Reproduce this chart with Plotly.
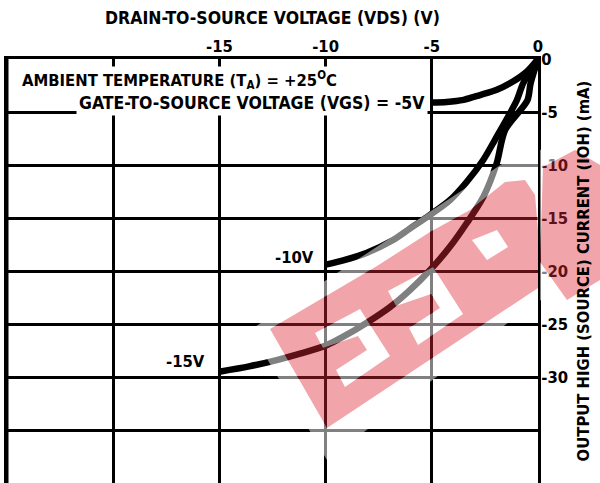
import plotly.graph_objects as go

# ---------------- data ----------------
vgs5_v = [0, -0.53, -1.16, -1.94, -2.73, -3.5, -4.3, -5.0]
vgs5_i = [0, -1.2, -2.1, -2.9, -3.4, -3.85, -4.05, -4.1]

vgs10_v = [0, -0.7, -1.0, -2.02, -2.57, -3.36, -4.14, -5.08, -6.03, -6.84, -8.08, -9.17, -10.0]
vgs10_i = [0, -2.3, -3.9, -7.6, -9.5, -11.6, -13.3, -14.7, -16.0, -17.1, -18.3, -19.0, -19.4]

vgs15_v = [0, -0.35, -0.5, -1.55, -1.94, -2.57, -3.36, -4.14, -5.08, -6.03, -6.97, -8.08,
           -9.17, -9.95, -11.2, -12.3, -13.6, -15.0]
vgs15_i = [0, -2.3, -3.9, -6.7, -9.8, -13.0, -15.5, -17.7, -19.9, -21.8, -23.4, -24.9,
           -26.2, -27.0, -27.8, -28.4, -29.0, -29.5]

x_range = [-25, 0]
y_range = [-40, 0]
x_tickvals = [-20, -15, -10, -5, 0]
x_ticktext = ["", "-15", "-10", "-5", "0"]
y_tickvals = [0, -5, -10, -15, -20, -25, -30, -35]
y_ticktext = ["0", "-5", "-10", "-15", "-20", "-25", "-30", ""]

FONT = "Liberation Sans Narrow, Arial Narrow, DejaVu Sans Condensed, Liberation Sans, sans-serif"
W, H = 600, 483
L, R, T, B = 7, 62, 59, 0

fig = go.Figure()
for v, i in [(vgs5_v, vgs5_i), (vgs10_v, vgs10_i), (vgs15_v, vgs15_i)]:
    fig.add_trace(go.Scatter(x=v, y=i, mode="lines",
                             line=dict(color="black", width=6.5, shape="spline", smoothing=0.8),
                             showlegend=False, hoverinfo="skip"))

# ---------------- watermark (decoration, pixel geometry -> paper) ----------------
PW, PH = W - L - R, H - T - B


def sx(x):
    return (x - L) / PW


def sy(y):
    return (H - B - y) / PH


def sub(pts):
    return "M " + " L ".join(f"{sx(a):.4f},{sy(b):.4f}" for a, b in pts) + " Z"


band = [(270, 329), (377, 266), (430, 232), (470, 210), (505, 182), (525, 180), (535, 195),
        (538, 230), (538, 288), (327, 428)]
e1 = [(315, 333), (360, 309), (390, 356), (345, 387), (336, 370), (367, 350), (358, 336), (323, 348)]
e2 = [(x + 73, y - 42) for x, y in e1]
phole = [(472, 240), (497, 230), (508, 247), (487, 260)]
right_piece = [(543, 167), (575, 150), (600, 165), (600, 280), (567, 300), (540, 262)]
halo = [(250, 330), (372, 250), (505, 162), (538, 158), (538, 300), (327, 460)]
halo_r = [(540, 150), (575, 132), (600, 140), (600, 300), (567, 318), (540, 300)]

red = "rgba(222,40,52,0.42)"
wht = "rgba(255,255,255,0.5)"
shapes = [
    # left frame line
    dict(type="line", xref="x", yref="paper", x0=x_range[0], x1=x_range[0], y0=0, y1=1,
         line=dict(color="black", width=3), layer="above"),
    dict(type="path", xref="paper", yref="paper", layer="above", line=dict(width=0),
         fillcolor=wht, fillrule="evenodd",
         path=sub(halo) + " " + sub(band) + " " + sub(e1) + " " + sub(e2) + " " + sub(phole)),
    dict(type="path", xref="paper", yref="paper", layer="above", line=dict(width=0),
         fillcolor=wht, fillrule="evenodd", path=sub(halo_r) + " " + sub(right_piece)),
    dict(type="path", xref="paper", yref="paper", layer="above", line=dict(width=0),
         fillcolor=red, fillrule="evenodd",
         path=sub(band) + " " + sub(e1) + " " + sub(e2) + " " + sub(phole)),
    dict(type="path", xref="paper", yref="paper", layer="above", line=dict(width=0),
         fillcolor=red, path=sub(right_piece)),
]

bold = dict(family=FONT, size=16.5, color="black", weight="bold")
bold_l = dict(family=FONT, size=17.5, color="black", weight="bold")
annotations = [
    dict(text="DRAIN-TO-SOURCE VOLTAGE (VDS) (V)", xref="paper", yref="paper",
         x=sx(272), y=sy(18), showarrow=False, font=bold_l,
         xanchor="center", yanchor="middle"),
    dict(text="AMBIENT TEMPERATURE (T<sub>A</sub>) = +25<sup>O</sup>C", xref="paper", yref="paper",
         x=sx(20), y=sy(80), showarrow=False, font=bold, bgcolor="white",
         xanchor="left", yanchor="middle", borderpad=1),
    dict(text="GATE-TO-SOURCE VOLTAGE (VGS) = -5V", x=vgs5_v[-1], y=vgs5_i[-1],
         xshift=-4, yshift=-1, showarrow=False, font=bold_l, bgcolor="white",
         xanchor="right", yanchor="middle", borderpad=2),
    dict(text="-10V", x=vgs10_v[-1], y=vgs10_i[-1], xshift=-10, yshift=7, showarrow=False,
         font=bold, xanchor="right", yanchor="middle"),
    dict(text="-15V", x=vgs15_v[-1], y=vgs15_i[-1], xshift=-12, yshift=10, showarrow=False,
         font=bold, xanchor="right", yanchor="middle"),
]

fig.update_layout(
    width=W, height=H, margin=dict(l=L, r=R, t=T, b=B, autoexpand=False),
    paper_bgcolor="white", plot_bgcolor="white",
    shapes=shapes, annotations=annotations,
    xaxis=dict(range=x_range, side="top", tickvals=x_tickvals, ticktext=x_ticktext,
               showgrid=True, gridcolor="black", gridwidth=2.5, zeroline=False,
               showline=True, linecolor="black", linewidth=3, ticks="",
               ticklabelstandoff=-3, tickfont=bold, fixedrange=True),
    yaxis=dict(range=y_range, side="right", tickvals=y_tickvals, ticktext=y_ticktext,
               showgrid=True, gridcolor="black", gridwidth=2.5, zeroline=False,
               showline=True, mirror=True, linecolor="black", linewidth=3, ticks="",
               ticklabelstandoff=-3, tickfont=bold, fixedrange=True,
               title=dict(text="OUTPUT HIGH (SOURCE) CURRENT (IOH) (mA)", font=bold, standoff=11)),
)

fig.write_html("out.html", post_script="document.body.style.margin='0';",
               config={"displayModeBar": False})
